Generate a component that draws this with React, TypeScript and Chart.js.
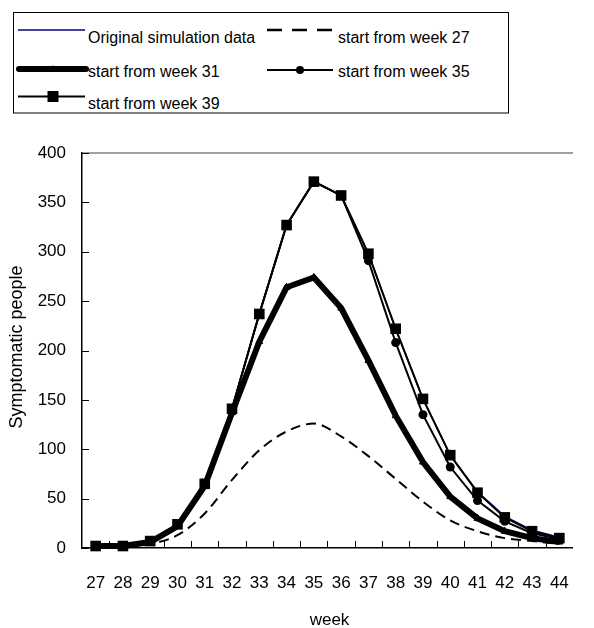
import React, { useEffect, useRef } from "react";
import { Chart, registerables } from "chart.js";

Chart.register(...registerables);

const weeks = ["27", "28", "29", "30", "31", "32", "33", "34", "35", "36", "37", "38", "39", "40", "41", "42", "43", "44"];
const originalData = [2, 2, 7, 24, 65, 141, 237, 327, 371, 357, 298, 222, 151, 94, 57, 32, 18, 11];
const week27Data = [0.5, 1, 4, 13, 35, 69, 99, 118, 126, 113, 93, 70, 47, 28, 17, 10, 7, 4];
const week31Data = [2, 2, 6, 22, 63, 137, 209, 264, 274, 243, 190, 134, 87, 52, 30, 17, 10, 6];
const week35Data = [2, 2, 7, 24, 65, 141, 237, 327, 371, 357, 291, 208, 135, 82, 48, 27, 15, 9];
const week39Data = [2, 2, 7, 24, 65, 141, 237, 327, 371, 357, 298, 222, 151, 94, 56, 31, 17, 10];
const yMin = 0;
const yMax = 400;
const yStep = 50;
const seriesLabels = [
  "Original simulation data",
  "start from week 27",
  "start from week 31",
  "start from week 35",
  "start from week 39",
];
const xTitle = "week";
const yTitle = "Symptomatic people";

const FONT = '"Liberation Sans", Arial, Helvetica, sans-serif';

const decorPlugin = {
  id: "decor",
  beforeDatasetsDraw(chart: any) {
    const { ctx, chartArea: a, scales } = chart;
    const xs = scales.x;
    const ys = scales.y;
    ctx.save();
    // top (gray) plot border
    ctx.strokeStyle = "#808080";
    ctx.lineWidth = 1.5;
    ctx.beginPath();
    ctx.moveTo(a.left, a.top);
    ctx.lineTo(a.right, a.top);
    ctx.stroke();
    // inward ticks
    ctx.strokeStyle = "#000";
    ctx.lineWidth = 1;
    ys.ticks.forEach((_t: any, i: number) => {
      const py = Math.round(ys.getPixelForTick(i)) + 0.5;
      ctx.beginPath();
      ctx.moveTo(a.left, py);
      ctx.lineTo(a.left + 7, py);
      ctx.stroke();
    });
    const n = xs.ticks.length;
    const w = (a.right - a.left) / n;
    for (let i = 1; i < n; i++) {
      const px = Math.round(a.left + i * w) + 0.5;
      ctx.beginPath();
      ctx.moveTo(px, a.bottom);
      ctx.lineTo(px, a.bottom - 7);
      ctx.stroke();
    }
    ctx.restore();
  },
  afterDraw(chart: any) {
    const { ctx, chartArea: a } = chart;
    ctx.save();
    ctx.fillStyle = "#000";
    // x title
    ctx.font = `17px ${FONT}`;
    ctx.textAlign = "center";
    ctx.textBaseline = "alphabetic";
    ctx.fillText(xTitle, (a.left + a.right) / 2 + 2, 625);
    // y title
    ctx.translate(22, 347);
    ctx.rotate(-Math.PI / 2);
    ctx.font = `18px ${FONT}`;
    ctx.fillText(yTitle, 0, 0);
    ctx.restore();
  },
};

function Legend() {
  const t = { fontFamily: FONT, fontSize: 16, fill: "#000" } as any;
  return (
    <svg
      width={594}
      height={120}
      style={{ position: "absolute", left: 0, top: 0, pointerEvents: "none" }}
    >
      <rect x={13.5} y={12.5} width={495} height={100.5} fill="#fff" stroke="#000" strokeWidth={1} />
      {/* row 1 */}
      <line x1={18} y1={30} x2={85} y2={30} stroke="#000080" strokeWidth={1.5} />
      <text x={88} y={43} {...t}>{seriesLabels[0]}</text>
      <line x1={267} y1={30} x2={333} y2={30} stroke="#000" strokeWidth={2.5} strokeDasharray="15 10" />
      <text x={338} y={43} {...t}>{seriesLabels[1]}</text>
      {/* row 2 */}
      <line x1={19} y1={69} x2={86} y2={69} stroke="#000" strokeWidth={6} strokeLinecap="round" />
      <polygon points="53,65 49,72 57,72" fill="#000" />
      <text x={88} y={77} {...t}>{seriesLabels[2]}</text>
      <line x1={267} y1={70} x2={333} y2={70} stroke="#000" strokeWidth={2} />
      <circle cx={300} cy={70} r={4} fill="#000" />
      <text x={338} y={77} {...t}>{seriesLabels[3]}</text>
      {/* row 3 */}
      <line x1={18} y1={96.5} x2={85} y2={96.5} stroke="#000" strokeWidth={2} />
      <rect x={47.5} y={91} width={11} height={11} fill="#000" />
      <text x={88} y={109} {...t}>{seriesLabels[4]}</text>
    </svg>
  );
}

export default function App() {
  const ref = useRef<HTMLCanvasElement>(null);

  useEffect(() => {
    if (!ref.current) return;
    const chart = new Chart(ref.current, {
      type: "line",
      data: {
        labels: weeks,
        datasets: [
          {
            label: seriesLabels[0],
            data: originalData,
            borderColor: "#000080",
            borderWidth: 1.5,
            pointRadius: 0,
            fill: false,
            order: 5,
            clip: false,
          } as any,
          {
            label: seriesLabels[1],
            data: week27Data,
            borderColor: "#000",
            borderWidth: 2,
            borderDash: [10, 6],
            cubicInterpolationMode: "monotone",
            pointRadius: 0,
            fill: false,
            order: 4,
            clip: false,
          },
          {
            label: seriesLabels[2],
            data: week31Data,
            borderColor: "#000",
            backgroundColor: "#000",
            borderWidth: 6,
            pointStyle: "triangle",
            pointRadius: 4,
            pointBorderWidth: 1,
            pointBackgroundColor: "#000",
            pointBorderColor: "#000",
            fill: false,
            order: 3,
            clip: false,
          },
          {
            label: seriesLabels[3],
            data: week35Data,
            borderColor: "#000",
            backgroundColor: "#000",
            borderWidth: 2,
            pointStyle: "circle",
            pointRadius: 4.5,
            pointBorderWidth: 0,
            pointBackgroundColor: "#000",
            fill: false,
            order: 2,
            clip: false,
          },
          {
            label: seriesLabels[4],
            data: week39Data,
            borderColor: "#000",
            backgroundColor: "#000",
            borderWidth: 2,
            pointStyle: "rect",
            pointRadius: 7.5,
            pointBorderWidth: 0,
            pointBackgroundColor: "#000",
            fill: false,
            order: 1,
            clip: false,
          },
        ],
      },
      options: {
        animation: false,
        responsive: true,
        maintainAspectRatio: false,
        devicePixelRatio: 1,
        layout: { padding: { top: 153, right: 0, bottom: 0, left: 0 } },
        plugins: {
          legend: { display: false },
          tooltip: { enabled: false },
          title: { display: false },
        },
        elements: { line: { tension: 0 } },
        scales: {
          x: {
            type: "category",
            offset: true,
            grid: { display: true, drawOnChartArea: false, drawTicks: false, offset: true },
            border: { display: true, color: "#000", width: 1.5 },
            ticks: {
              color: "#000",
              font: { family: FONT, size: 17 },
              padding: 25,
              autoSkip: false,
              maxRotation: 0,
            },
            afterFit: (s: any) => {
              s.height = 80;
            },
          },
          y: {
            min: yMin,
            max: yMax,
            grid: { display: true, drawOnChartArea: false, drawTicks: false },
            border: { display: true, color: "#000", width: 1.5 },
            ticks: {
              stepSize: yStep,
              color: "#000",
              font: { family: FONT, size: 17 },
              padding: 16,
            },
            afterFit: (s: any) => {
              s.width = 82;
            },
          },
        },
      },
      plugins: [decorPlugin],
    });
    return () => chart.destroy();
  }, []);

  return (
    <div
      style={{
        position: "fixed",
        left: 0,
        top: 0,
        width: 594,
        height: 628,
        background: "#fff",
        overflow: "hidden",
      }}
    >
      <div style={{ position: "absolute", left: 0, top: 0, width: 594, height: 628 }}>
        <canvas ref={ref} />
      </div>
      <Legend />
    </div>
  );
}
